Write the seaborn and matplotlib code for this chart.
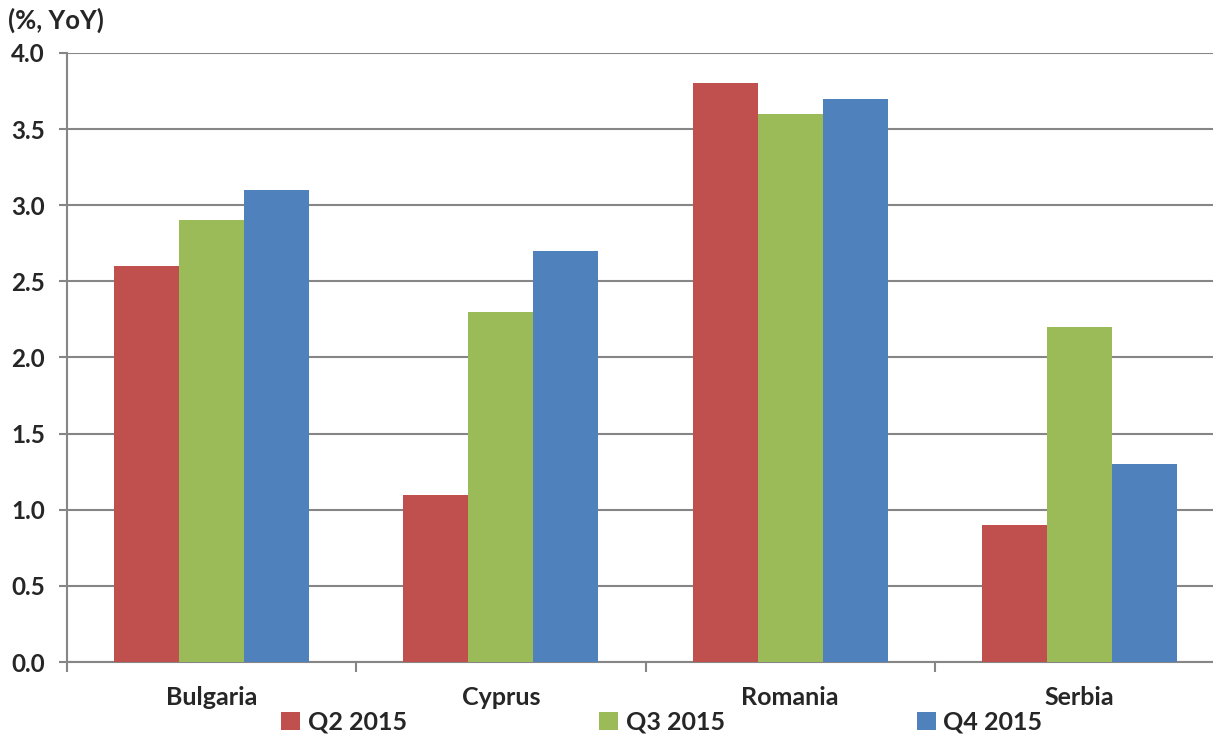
import pandas as pd
import matplotlib
matplotlib.use("Agg")
import matplotlib.pyplot as plt
import seaborn as sns

countries = ["Bulgaria", "Cyprus", "Romania", "Serbia"]
quarters = ["Q2 2015", "Q3 2015", "Q4 2015"]
q2 = [2.6, 1.1, 3.8, 0.9]
q3 = [2.9, 2.3, 3.6, 2.2]
q4 = [3.1, 2.7, 3.7, 1.3]
colors = ["#C0504D", "#9BBB59", "#4F81BD"]

df = pd.DataFrame({
    "country": countries * 3,
    "quarter": [q for q in quarters for _ in countries],
    "value": q2 + q3 + q4,
})

sns.set_theme(style="white")
plt.rcParams["font.family"] = ["Lato", "DejaVu Sans"]
plt.rcParams["font.weight"] = "bold"

fig = plt.figure(figsize=(12.13, 7.35), dpi=100)
ax = fig.add_axes([67 / 1213, 73 / 735, (1224 - 67) / 1213, (662 - 53) / 735])

sns.barplot(data=df, x="country", y="value", hue="quarter", palette=colors,
            width=0.675, saturation=1, linewidth=0, ax=ax, legend=True, zorder=3)

ax.set_ylim(0, 4.0)
ax.set_xlim(-0.5, 3.5)
ax.set_yticks([i * 0.5 for i in range(9)])
ax.set_yticklabels([f"{i * 0.5:.1f}" for i in range(9)], fontsize=17.5, fontweight="bold")
ax.yaxis.grid(True, color="#868686", linewidth=1.5, zorder=0)
ax.set_axisbelow(True)

# category boundary ticks on x
ax.set_xticks([-0.5, 0.5, 1.5, 2.5, 3.5])
ax.set_xticklabels([])
ax.set_xticks([0, 1, 2, 3], minor=True)
ax.set_xticklabels(countries, minor=True, fontsize=18, fontweight="bold")
ax.tick_params(axis="x", which="major", direction="out", length=7, width=1.5, color="#868686", bottom=True)
ax.tick_params(axis="x", which="minor", length=0, pad=17)
ax.tick_params(axis="y", direction="out", length=6, width=1.5, color="#868686", left=True, pad=10)

for s in ["top", "right"]:
    ax.spines[s].set_visible(False)
for s in ["left", "bottom"]:
    ax.spines[s].set_color("#868686")
    ax.spines[s].set_linewidth(1.5)

ax.set_xlabel("")
ax.set_ylabel("")

handles, labels = ax.get_legend_handles_labels()
ax.get_legend().remove()
fig.legend(handles, labels, loc="center", bbox_to_anchor=(662 / 1213, 1 - 722 / 735),
           ncol=3, frameon=False, handlelength=0.75, handleheight=0.75, handletextpad=0.3,
           columnspacing=7.7, prop={"size": 18, "weight": "bold"})

fig.text(8 / 1213, 1 - 20 / 735, "(%, YoY)", fontsize=18.5, fontweight="bold", va="center", ha="left")

fig.savefig("out.png", dpi=100)
